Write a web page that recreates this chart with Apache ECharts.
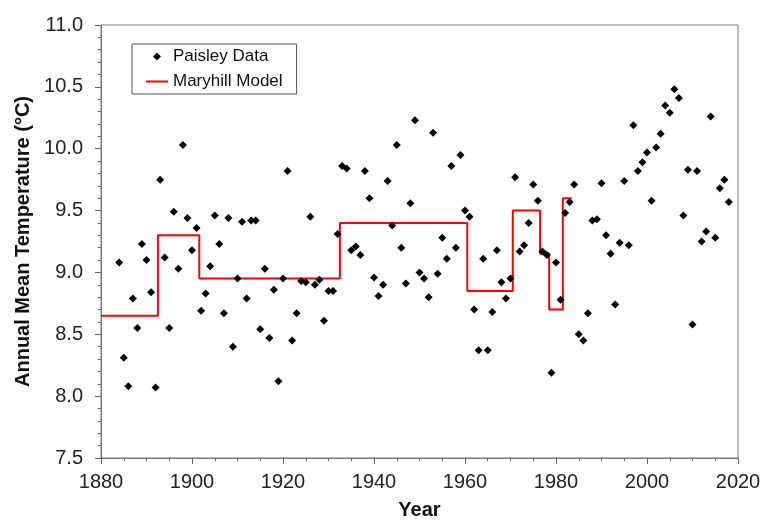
<!DOCTYPE html>
<html lang="en">
<head>
    <meta charset="UTF-8">
    <title>Paisley vs Maryhill</title>
    <style>
        html, body { margin: 0; padding: 0; background: #fff; }
        .chart { width: 764px; height: 525px; }
    </style>
</head>
<body>
<div class="chart" id="showData"></div>
<script src="https://cdn.jsdelivr.net/npm/echarts@6/dist/echarts.min.js"></script>
<script>
    var paisleyYears = [
        1884, 1885, 1886, 1887, 1888, 1889, 1890, 1891, 1892, 1893,
        1894, 1895, 1896, 1897, 1898, 1899, 1900, 1901, 1902, 1903,
        1904, 1905, 1906, 1907, 1908, 1909, 1910, 1911, 1912, 1913,
        1914, 1915, 1916, 1917, 1918, 1919, 1920, 1921, 1922, 1923,
        1924, 1925, 1926, 1927, 1928, 1929, 1930, 1931, 1932, 1933,
        1934, 1935, 1936, 1937, 1938, 1939, 1940, 1941, 1942, 1943,
        1944, 1945, 1946, 1947, 1948, 1949, 1950, 1951, 1952, 1953,
        1954, 1955, 1956, 1957, 1958, 1959, 1960, 1961, 1962, 1963,
        1964, 1965, 1966, 1967, 1968, 1969, 1970, 1971, 1972, 1973,
        1974, 1975, 1976, 1977, 1978, 1979, 1980, 1981, 1982, 1983,
        1984, 1985, 1986, 1987, 1988, 1989, 1990, 1991, 1992, 1993,
        1994, 1995, 1996, 1997, 1998, 1999, 2000, 2001, 2002, 2003,
        2004, 2005, 2006, 2007, 2008, 2009, 2010, 2011, 2012, 2013,
        2014, 2015, 2016, 2017, 2018
    ];
    var paisleyTemps = [
        9.08, 8.31, 8.08, 8.79, 8.55, 9.23, 9.10, 8.84, 8.07, 9.75,
        9.12, 8.55, 9.49, 9.03, 10.03, 9.44, 9.18, 9.36, 8.69, 8.83,
        9.05, 9.46, 9.23, 8.67, 9.44, 8.40, 8.95, 9.41, 8.79, 9.42,
        9.42, 8.54, 9.03, 8.47, 8.86, 8.12, 8.95, 9.82, 8.45, 8.67,
        8.93, 8.92, 9.45, 8.90, 8.94, 8.61, 8.85, 8.85, 9.31, 9.86,
        9.84, 9.18, 9.21, 9.14, 9.82, 9.60, 8.96, 8.81, 8.90, 9.74,
        9.38, 10.03, 9.20, 8.91, 9.56, 10.23, 9.00, 8.95, 8.80, 10.13,
        8.99, 9.28, 9.11, 9.86, 9.20, 9.95, 9.50, 9.45, 8.70, 8.37,
        9.11, 8.37, 8.68, 9.18, 8.92, 8.79, 8.95, 9.77, 9.17, 9.22,
        9.40, 9.71, 9.58, 9.17, 9.14, 8.19, 9.08, 8.78, 9.48, 9.57,
        9.71, 8.50, 8.45, 8.67, 9.42, 9.43, 9.72, 9.30, 9.15, 8.74,
        9.24, 9.74, 9.22, 10.19, 9.82, 9.89, 9.97, 9.58, 10.01, 10.12,
        10.35, 10.29, 10.48, 10.41, 9.46, 9.83, 8.58, 9.82, 9.25, 9.33,
        10.26, 9.28, 9.68, 9.75, 9.57
    ];

    // model: each level starts at the matching year and holds until the next one
    var modelYears = [1880, 1892.5, 1901.6, 1932.5, 1960.5, 1970.5, 1976.5, 1978.5, 1981.5, 1983.4];
    var modelLevels = [8.65, 9.30, 8.95, 9.40, 8.85, 9.50, 9.15, 8.70, 9.60, 9.60];

    var xTicks = [1880, 1900, 1920, 1940, 1960, 1980, 2000, 2020];
    var yTicks = [7.5, 8.0, 8.5, 9.0, 9.5, 10.0, 10.5, 11.0];

    var font = 'Liberation Sans, Arial, sans-serif';

    var scatterData = [];
    for (var i = 0; i < paisleyYears.length; i++) {
        scatterData.push([paisleyYears[i], paisleyTemps[i]]);
    }
    var modelData = [];
    for (var j = 0; j < modelYears.length; j++) {
        modelData.push([modelYears[j], modelLevels[j]]);
    }

    var option = {
        animation: false,
        backgroundColor: '#fff',
        textStyle: { fontFamily: font },
        grid: {
            left: 101,
            right: 26,
            top: 25,
            bottom: 61,
            show: true,
            borderColor: '#777',
            borderWidth: 1
        },
        legend: {
            orient: 'vertical',
            left: 132,
            top: 44,
            padding: [4, 14, 4, 14],
            itemGap: 8,
            itemWidth: 22,
            itemHeight: 8,
            symbolKeepAspect: true,
            borderColor: '#555',
            borderWidth: 1,
            textStyle: { fontFamily: font, fontSize: 17, color: '#111' },
            data: [
                { name: 'Paisley Data', icon: 'path://M3.5,0 L7,3.5 L3.5,7 L0,3.5 Z',
                  itemStyle: { color: '#000', opacity: 1 } },
                { name: 'Maryhill Model', icon: 'path://M0,0 L22,0 L22,2 L0,2 Z',
                  itemStyle: { color: '#ff0000' } }
            ]
        },
        xAxis: {
            type: 'value',
            min: xTicks[0],
            max: xTicks[xTicks.length - 1],
            interval: 20,
            name: 'Year',
            nameLocation: 'middle',
            nameGap: 42,
            nameTextStyle: { fontFamily: font, fontSize: 20, fontWeight: 'bold', color: '#111' },
            axisLine: { show: true, lineStyle: { color: '#777', width: 1 } },
            axisTick: { show: true, length: 6, lineStyle: { color: '#666' } },
            minorTick: { show: true, splitNumber: 4, length: 3, lineStyle: { color: '#666' } },
            axisLabel: {
                fontFamily: font, fontSize: 20, color: '#222', margin: 14,
                formatter: function (v) { return String(v); }
            },
            splitLine: { show: false }
        },
        yAxis: {
            type: 'value',
            min: yTicks[0],
            max: yTicks[yTicks.length - 1],
            interval: 0.5,
            name: 'Annual Mean Temperature (°C)',
            nameLocation: 'middle',
            nameGap: 60,
            nameTextStyle: { fontFamily: font, fontSize: 20, fontWeight: 'bold', color: '#111' },
            axisLine: { show: true, lineStyle: { color: '#777', width: 1 } },
            axisTick: { show: true, length: 6, lineStyle: { color: '#666' } },
            minorTick: { show: true, splitNumber: 5, length: 3, lineStyle: { color: '#666' } },
            axisLabel: {
                fontFamily: font, fontSize: 20, color: '#222', margin: 18,
                formatter: function (v) { return v.toFixed(1); }
            },
            splitLine: { show: false }
        },
        series: [
            {
                name: 'Maryhill Model',
                type: 'line',
                step: 'end',
                symbol: 'none',
                z: 2,
                lineStyle: { color: '#ff0000', width: 2 },
                itemStyle: { color: '#ff0000' },
                data: modelData
            },
            {
                name: 'Paisley Data',
                type: 'scatter',
                symbol: 'diamond',
                symbolSize: 8,
                z: 3,
                itemStyle: { color: '#000', opacity: 1 },
                data: scatterData
            }
        ]
    };

    var mychart = echarts.init(document.getElementById('showData'));
    mychart.setOption(option);
</script>
</body>
</html>
